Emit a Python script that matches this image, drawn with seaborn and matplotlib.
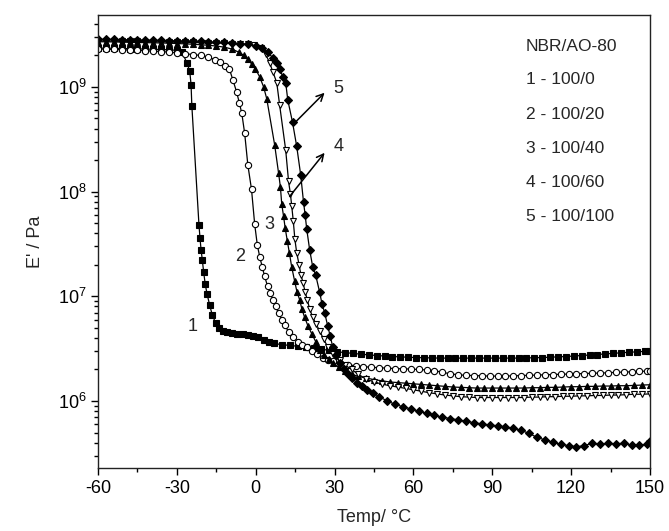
import numpy as np
import matplotlib
matplotlib.use("Agg")
import matplotlib.pyplot as plt
from matplotlib.ticker import MultipleLocator, LogLocator
import seaborn as sns

# Storage modulus E' (Pa) vs temperature (deg C)
# 1 - 100/0 (filled squares)
t1 = [-60, -57, -54, -51, -48, -45, -42, -39, -36, -33, -30, -28, -26.2, -25.1, -24.6, -24.3,
      -21.6, -21.2, -20.8, -20.3, -19.8, -19.2, -18.5, -17.5, -16.5, -15.3, -14, -12.5, -11, -9,
      -7, -5, -3, -1, 1, 3, 5, 7, 10, 13, 16, 19, 22, 25, 28, 31, 34, 37, 40, 43, 46, 49, 52,
      55, 58, 61, 64, 67, 70, 73, 76, 79, 82, 85, 88, 91, 94, 97, 100, 103, 106, 109, 112, 115,
      118, 121, 124, 127, 130, 133, 136, 139, 142, 145, 148, 150]
e1 = [2.35e9, 2.35e9, 2.34e9, 2.33e9, 2.32e9, 2.31e9, 2.3e9, 2.29e9, 2.28e9, 2.26e9, 2.24e9,
      2.15e9, 1.7e9, 1.42e9, 1.05e9, 6.6e8,
      4.85e7, 3.6e7, 2.8e7, 2.2e7, 1.7e7, 1.3e7, 1.05e7, 8.2e6, 6.6e6, 5.6e6, 5.0e6, 4.7e6,
      4.55e6, 4.45e6, 4.4e6, 4.35e6, 4.3e6, 4.2e6, 4.05e6, 3.8e6, 3.65e6, 3.55e6, 3.45e6, 3.4e6,
      3.33e6, 3.27e6, 3.2e6, 3.12e6, 3.05e6, 2.95e6, 2.9e6, 2.85e6, 2.8e6, 2.76e6, 2.72e6,
      2.69e6, 2.66e6, 2.64e6, 2.62e6, 2.6e6, 2.59e6, 2.58e6, 2.57e6, 2.57e6, 2.57e6, 2.57e6,
      2.57e6, 2.57e6, 2.57e6, 2.57e6, 2.57e6, 2.57e6, 2.57e6, 2.58e6, 2.59e6, 2.6e6, 2.62e6,
      2.64e6, 2.66e6, 2.69e6, 2.72e6, 2.75e6, 2.78e6, 2.82e6, 2.85e6, 2.89e6, 2.92e6, 2.95e6,
      2.98e6, 3.0e6]

# 2 - 100/20 (open circles)
t2 = [-60, -57, -54, -51, -48, -45, -42, -39, -36, -33, -30, -27, -24, -21, -18, -15.5, -13.5,
      -11.5, -10, -8.7, -7.3, -6.2, -5.3, -4.2, -3.0, -1.6, -0.4, 0.6, 1.5, 2.5, 3.4, 4.5, 5.5,
      6.5, 7.6, 8.7, 9.9, 11, 12.5, 14.1, 16, 17.7, 19.4, 21.5, 23.5, 25.5, 27.5, 29.5, 32, 35,
      38, 41, 44, 47, 50, 53, 56, 59, 62, 65, 68, 71, 74, 77, 80, 83, 86, 89, 92, 95, 98, 101,
      104, 107, 110, 113, 116, 119, 122, 125, 128, 131, 134, 137, 140, 143, 146, 149, 150]
e2 = [2.3e9, 2.3e9, 2.28e9, 2.27e9, 2.25e9, 2.24e9, 2.22e9, 2.2e9, 2.18e9, 2.15e9, 2.12e9,
      2.08e9, 2.04e9, 2.0e9, 1.92e9, 1.82e9, 1.72e9, 1.6e9, 1.48e9, 1.17e9, 9e8, 7e8, 5.6e8,
      3.6e8, 1.8e8, 1.05e8, 4.9e7, 3.1e7, 2.4e7, 1.9e7, 1.55e7, 1.25e7, 1.08e7, 9.3e6, 8e6,
      6.9e6, 6e6, 5.3e6, 4.6e6, 4.1e6, 3.7e6, 3.45e6, 3.25e6, 3.0e6, 2.8e6, 2.6e6, 2.48e6,
      2.4e6, 2.3e6, 2.22e6, 2.17e6, 2.13e6, 2.1e6, 2.08e6, 2.06e6, 2.04e6, 2.03e6, 2.02e6,
      2.0e6, 1.98e6, 1.95e6, 1.88e6, 1.82e6, 1.78e6, 1.76e6, 1.75e6, 1.74e6, 1.73e6, 1.73e6,
      1.73e6, 1.74e6, 1.75e6, 1.76e6, 1.77e6, 1.78e6, 1.79e6, 1.8e6, 1.81e6, 1.82e6, 1.83e6,
      1.84e6, 1.85e6, 1.86e6, 1.88e6, 1.89e6, 1.9e6, 1.92e6, 1.93e6, 1.94e6]

# 3 - 100/40 (filled triangles)
t3 = [-60, -57, -54, -51, -48, -45, -42, -39, -36, -33, -30, -27, -24, -21, -18, -15, -12, -9,
      -6.5, -4.5, -3, -1.5, -0.2, 1.5, 3.0, 4.2, 7.2, 8.7, 9.4, 9.9, 10.6, 11.2, 12.0, 12.8,
      13.7, 14.8, 15.7, 16.7, 17.6, 18.6, 19.9, 21.3, 22.8, 24.3, 26, 27.7, 29.3, 31.5, 34,
      36.5, 39, 42, 45, 48, 51, 54, 57, 60, 63, 66, 69, 72, 75, 78, 81, 84, 87, 90, 93, 96, 99,
      102, 105, 108, 111, 114, 117, 120, 123, 126, 129, 132, 135, 138, 141, 144, 147, 150]
e3 = [2.7e9, 2.7e9, 2.69e9, 2.68e9, 2.67e9, 2.66e9, 2.65e9, 2.64e9, 2.63e9, 2.62e9, 2.6e9,
      2.58e9, 2.56e9, 2.53e9, 2.5e9, 2.46e9, 2.4e9, 2.3e9, 2.15e9, 2.0e9, 1.85e9, 1.65e9,
      1.5e9, 1.25e9, 1.0e9, 7.7e8, 2.8e8, 1.5e8, 1.1e8, 7.6e7, 5.8e7, 4.5e7, 3.4e7, 2.6e7,
      1.9e7, 1.4e7, 1.1e7, 9.3e6, 7.5e6, 6.3e6, 5.2e6, 4.4e6, 3.7e6, 3.1e6, 2.75e6, 2.5e6,
      2.3e6, 2.1e6, 1.95e6, 1.8e6, 1.72e6, 1.66e6, 1.6e6, 1.56e6, 1.52e6, 1.5e6, 1.48e6,
      1.46e6, 1.44e6, 1.42e6, 1.4e6, 1.38e6, 1.36e6, 1.35e6, 1.34e6, 1.33e6, 1.33e6, 1.33e6,
      1.33e6, 1.33e6, 1.33e6, 1.33e6, 1.34e6, 1.34e6, 1.35e6, 1.35e6, 1.36e6, 1.37e6, 1.37e6,
      1.38e6, 1.38e6, 1.39e6, 1.39e6, 1.4e6, 1.4e6, 1.41e6, 1.42e6, 1.43e6]

# 4 - 100/60 (open triangles)
t4 = [-60, -57, -54, -51, -48, -45, -42, -39, -36, -33, -30, -27, -24, -21, -18, -15, -12, -9,
      -6, -3, -0.5, 2, 3.8, 5.3, 6.5, 8, 9.1, 11.4, 12.5, 13.2, 13.7, 14.3, 14.9, 15.6, 16.5,
      17.2, 18, 18.8, 19.6, 20.5, 21.7, 23, 24.3, 25.8, 27.4, 29.5, 31.9, 34, 36.5, 39, 42, 45,
      48, 51, 54, 57, 60, 63, 66, 69, 72, 75, 78, 81, 84, 87, 90, 93, 96, 99, 102, 105, 108,
      111, 114, 117, 120, 123, 126, 129, 132, 135, 138, 141, 144, 147, 150]
e4 = [2.75e9, 2.75e9, 2.74e9, 2.73e9, 2.73e9, 2.72e9, 2.71e9, 2.7e9, 2.7e9, 2.69e9, 2.68e9,
      2.67e9, 2.66e9, 2.65e9, 2.64e9, 2.63e9, 2.62e9, 2.6e9, 2.58e9, 2.55e9, 2.5e9, 2.35e9,
      2.05e9, 1.7e9, 1.4e9, 1.1e9, 6.7e8, 2.5e8, 1.25e8, 9.5e7, 7.3e7, 5.2e7, 3.5e7, 2.6e7,
      2.0e7, 1.6e7, 1.35e7, 1.1e7, 9.3e6, 7.6e6, 6.3e6, 5.4e6, 4.7e6, 3.9e6, 3.3e6, 2.8e6,
      2.45e6, 2.2e6, 2.0e6, 1.8e6, 1.62e6, 1.52e6, 1.45e6, 1.4e6, 1.36e6, 1.32e6, 1.28e6,
      1.24e6, 1.2e6, 1.17e6, 1.14e6, 1.12e6, 1.1e6, 1.09e6, 1.08e6, 1.08e6, 1.08e6, 1.08e6,
      1.08e6, 1.08e6, 1.08e6, 1.09e6, 1.09e6, 1.1e6, 1.1e6, 1.11e6, 1.11e6, 1.12e6, 1.12e6,
      1.13e6, 1.13e6, 1.14e6, 1.14e6, 1.15e6, 1.16e6, 1.16e6, 1.17e6]

# 5 - 100/100 (filled diamonds)
t5 = [-60, -57, -54, -51, -48, -45, -42, -39, -36, -33, -30, -27, -24, -21, -18, -15, -12, -9,
      -6, -3, 0, 2.5, 4.5, 6.5, 8, 9.1, 10.3, 11.4, 12.2, 14, 15.6, 17.1, 18.2, 18.8, 19.4,
      20.5, 21.7, 22.8, 24.3, 25.2, 26.2, 27.4, 28.3, 29.3, 30.6, 31.9, 33.5, 35, 36.7, 38.4,
      40.4, 42.4, 44.5, 47, 50, 53, 56, 59, 62, 65, 68, 71, 74, 77, 80, 83, 86, 89, 92, 95, 98,
      101, 104, 107, 110, 113, 116, 119, 122, 125, 128, 131, 134, 137, 140, 143, 146, 149, 150]
e5 = [2.85e9, 2.85e9, 2.84e9, 2.83e9, 2.82e9, 2.81e9, 2.8e9, 2.79e9, 2.78e9, 2.77e9, 2.76e9,
      2.75e9, 2.74e9, 2.72e9, 2.7e9, 2.68e9, 2.66e9, 2.64e9, 2.6e9, 2.55e9, 2.48e9, 2.35e9,
      2.15e9, 1.9e9, 1.7e9, 1.5e9, 1.25e9, 1.1e9, 7.5e8, 4.6e8, 2.7e8, 1.45e8, 7.9e7, 6e7,
      4.4e7, 2.8e7, 1.9e7, 1.6e7, 1.1e7, 8.5e6, 7e6, 5.2e6, 4.2e6, 3.3e6, 2.75e6, 2.3e6, 2.0e6,
      1.8e6, 1.65e6, 1.5e6, 1.38e6, 1.27e6, 1.2e6, 1.1e6, 1.0e6, 9.3e5, 8.8e5, 8.4e5, 8.0e5,
      7.6e5, 7.3e5, 7.0e5, 6.8e5, 6.6e5, 6.4e5, 6.2e5, 6.05e5, 5.9e5, 5.8e5, 5.65e5, 5.5e5,
      5.25e5, 4.9e5, 4.5e5, 4.25e5, 4.05e5, 3.85e5, 3.75e5, 3.65e5, 3.75e5, 3.95e5, 3.85e5,
      3.95e5, 3.9e5, 3.95e5, 3.8e5, 3.8e5, 3.85e5, 4.15e5]

legend_title = "NBR/AO-80"
legend_lines = ["1 - 100/0", "2 - 100/20", "3 - 100/40", "4 - 100/60", "5 - 100/100"]
x_ticks = [-60, -30, 0, 30, 60, 90, 120, 150]

sns.set_style("ticks")
plt.rcParams["font.family"] = ["Liberation Sans", "DejaVu Sans"]
plt.rcParams["mathtext.fontset"] = "custom"
plt.rcParams["mathtext.rm"] = "Liberation Sans"
plt.rcParams["axes.unicode_minus"] = False

fig = plt.figure(figsize=(6.69, 5.31), dpi=100)
ax = fig.add_axes([0.1465, 0.1186, 0.8251, 0.8532])

# each series: data, marker, filled or open, size
series = [
    (t1, e1, "s", True, 4.3),
    (t2, e2, "o", False, 4.5),
    (t3, e3, "^", True, 5.0),
    (t4, e4, "v", False, 5.0),
    (t5, e5, "D", True, 4.3),
]
for t, e, m, filled, ms in series:
    sns.lineplot(x=t, y=e, ax=ax, color="k", linewidth=0.9, sort=False, estimator=None,
                 marker=m, markersize=ms,
                 markerfacecolor="k" if filled else "white",
                 markeredgecolor="k", markeredgewidth=0.8)

ax.set_yscale("log")
ax.set_xlim(-60, 150)
ax.set_ylim(2.29e5, 4.87e9)
ax.set_xticks(x_ticks)
ax.xaxis.set_minor_locator(MultipleLocator(15))
ax.yaxis.set_major_locator(LogLocator(base=10, numticks=12))
ax.yaxis.set_minor_locator(LogLocator(base=10, subs=np.arange(2, 10), numticks=12))
ax.tick_params(axis="both", which="major", length=5, width=1, labelsize=13, color="k",
               labelcolor="k")
ax.tick_params(axis="both", which="minor", length=3, width=1, color="k")
for s in ax.spines.values():
    s.set_visible(True)
    s.set_linewidth(1.0)
    s.set_color("#222222")

ax.set_xlabel("Temp/ °C", fontsize=13, labelpad=9)
ax.set_ylabel("E' / Pa", fontsize=13, labelpad=10)

# curve numbers
ax.text(-23.9, 5.2e6, "1", fontsize=13, ha="center", va="center")
ax.text(-6.1, 2.4e7, "2", fontsize=13, ha="center", va="center")
ax.text(5.3, 4.85e7, "3", fontsize=13, ha="center", va="center")
ax.text(31.5, 9.6e8, "5", fontsize=13, ha="center", va="center")
ax.text(31.5, 2.7e8, "4", fontsize=13, ha="center", va="center")
arrow = dict(arrowstyle="->,head_length=0.5,head_width=0.25", color="k", lw=1.1,
             shrinkA=0, shrinkB=0)
ax.annotate("", xy=(26.2, 8.8e8), xytext=(14.1, 4.35e8), arrowprops=arrow)
ax.annotate("", xy=(26.2, 2.35e8), xytext=(12.9, 9.0e7), arrowprops=arrow)

# legend text block
ax.text(0.775, (468 - 46.5) / 453, legend_title, transform=ax.transAxes, fontsize=12.5,
        ha="left", va="center")
for i, lab in enumerate(legend_lines):
    ax.text(0.775, (468 - 80 - 34.2 * i) / 453, lab, transform=ax.transAxes, fontsize=12.5,
            ha="left", va="center")

fig.savefig("out.png", dpi=100)
